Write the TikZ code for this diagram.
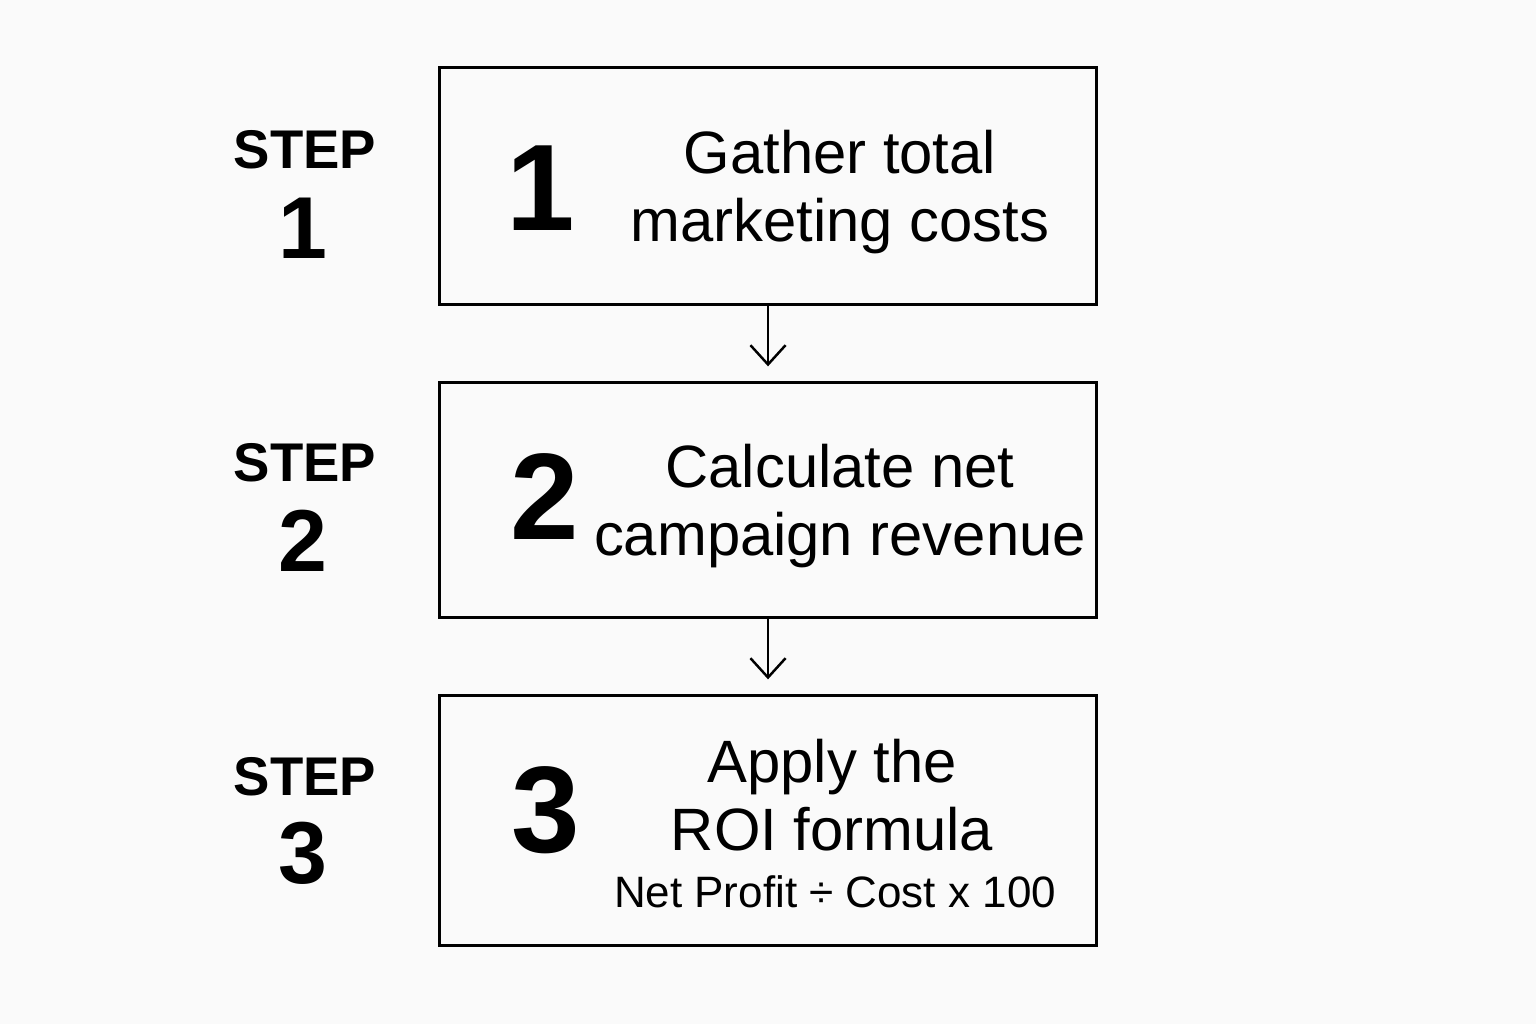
\documentclass[tikz,border=0pt]{standalone}
\usepackage{fontspec}
\setmainfont{Liberation Sans}
\usetikzlibrary{arrows.meta}
\begin{document}
\begin{tikzpicture}[x=0.01cm,y=-0.01cm,>={Straight Barb[length=5.5pt,width=10pt]},
  stepbox/.style={draw,line width=0.85pt,minimum width=6.56cm,inner sep=0pt},
  steplbl/.style={font=\fontsize{15.5}{15.5}\selectfont\bfseries},
  stepnum/.style={font=\fontsize{25}{25}\selectfont\bfseries},
  bignum/.style={font=\fontsize{35}{35}\selectfont\bfseries},
  boxtext/.style={align=center,font=\fontsize{17}{19.5}\selectfont}]
\fill[black!2] (0,0) rectangle (1536,1024);
\useasboundingbox (0,0) rectangle (1536,1024);
\path
(768,186)   node[stepbox,minimum height=2.36cm] (box1) {}
(768,500)   node[stepbox,minimum height=2.34cm] (box2) {}
(768,820.5) node[stepbox,minimum height=2.49cm] (box3) {}

(305,150) node[steplbl] (s1) {STEP}
(303,228) node[stepnum] (n1) {1}
(305,463) node[steplbl] (s2) {STEP}
(303,541) node[stepnum] (n2) {2}
(305,777) node[steplbl] (s3) {STEP}
(303,853) node[stepnum] (n3) {3}

(541,188) node[bignum] (b1) {1}
(545,497) node[bignum] (b2) {2}
(546,810) node[bignum] (b3) {3}

(840,192) node[boxtext] (t1) {Gather total\\marketing costs}
(840,506) node[boxtext] (t2) {Calculate net\\campaign revenue}
(832,795) node[boxtext] (t3) {Apply the\\ROI formula}
(835,892) node[font=\fontsize{12.5}{12.5}\selectfont] (f3) {Net Profit ÷ Cost x 100};

\draw[->,line width=0.7pt,shorten >=4.3pt] (box1.south)--(box2.north);
\draw[->,line width=0.7pt,shorten >=4.3pt] (box2.south)--(box3.north);
\end{tikzpicture}
\end{document}
